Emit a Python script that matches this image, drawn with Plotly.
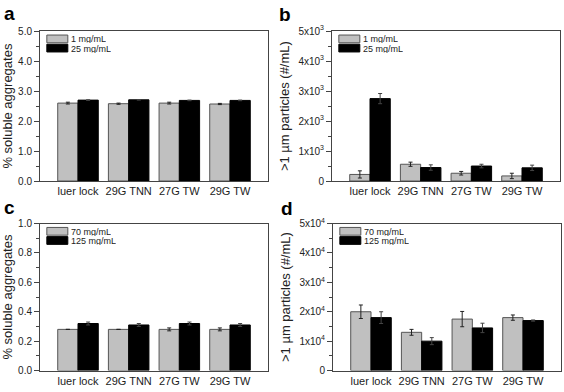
import plotly.graph_objects as go

categories = ["luer lock", "29G TNN", "27G TW", "29G TW"]

# Panel a: % soluble aggregates, 1 vs 25 mg/mL
a_low = [2.60, 2.58, 2.60, 2.57]
a_low_err = [0.03, 0.02, 0.03, 0.02]
a_high = [2.70, 2.71, 2.69, 2.69]
a_high_err = [0.01, 0.01, 0.01, 0.01]

# Panel b: >1 um particles, 1 vs 25 mg/mL
b_low = [220, 560, 260, 170]
b_low_err = [120, 70, 60, 90]
b_high = [2750, 450, 500, 440]
b_high_err = [170, 90, 60, 90]

# Panel c: % soluble aggregates, 70 vs 125 mg/mL
c_low = [0.28, 0.28, 0.28, 0.28]
c_low_err = [0.0, 0.0, 0.01, 0.01]
c_high = [0.32, 0.31, 0.32, 0.31]
c_high_err = [0.01, 0.01, 0.01, 0.01]

# Panel d: >1 um particles, 70 vs 125 mg/mL
d_low = [20000, 13000, 17500, 18000]
d_low_err = [2300, 1000, 2600, 900]
d_high = [18000, 10000, 14500, 17000]
d_high_err = [2000, 1200, 1600, 200]

legend_ab = ["1 mg/mL", "25 mg/mL"]
legend_cd = ["70 mg/mL", "125 mg/mL"]

ticks_a = [0, 1, 2, 3, 4, 5]
ticktext_a = ["0.0", "1.0", "2.0", "3.0", "4.0", "5.0"]
ticks_b = [0, 1000, 2000, 3000, 4000, 5000]
ticktext_b = ["0"] + [f"{i}x10<sup>3</sup>" for i in range(1, 6)]
ticks_c = [0, 0.2, 0.4, 0.6, 0.8, 1.0]
ticktext_c = ["0.0", "0.2", "0.4", "0.6", "0.8", "1.0"]
ticks_d = [0, 10000, 20000, 30000, 40000, 50000]
ticktext_d = ["0"] + [f"{i}x10<sup>4</sup>" for i in range(1, 6)]

GRAY = "#c0c0c0"
FONT = "Liberation Sans, Arial, sans-serif"
TXT = "#222222"
LINE = "#444444"

W, H = 564, 392
def px_x(a, b):
    return [a / W, b / W]
def px_y(top, bottom):
    return [1 - bottom / H, 1 - top / H]

panels = [
    dict(low=a_low, le=a_low_err, high=a_high, he=a_high_err, leg=legend_ab,
         ticks=ticks_a, tt=ticktext_a, rng=[0, 5], minor=0.5,
         title="% soluble aggregates", xd=px_x(40, 268), yd=px_y(25, 180),
         label="a", lx=2, ly=7, so=8),
    dict(low=b_low, le=b_low_err, high=b_high, he=b_high_err, leg=legend_ab,
         ticks=ticks_b, tt=ticktext_b, rng=[0, 5000], minor=500,
         title=">1 µm particles (#/mL)", xd=px_x(332, 560), yd=px_y(25, 180),
         label="b", lx=277, ly=8, so=5),
    dict(low=c_low, le=c_low_err, high=c_high, he=c_high_err, leg=legend_cd,
         ticks=ticks_c, tt=ticktext_c, rng=[0, 1.0], minor=0.1,
         title="% soluble aggregates", xd=px_x(40, 268), yd=px_y(224, 376),
         label="c", lx=2, ly=207, so=8),
    dict(low=d_low, le=d_low_err, high=d_high, he=d_high_err, leg=legend_cd,
         ticks=ticks_d, tt=ticktext_d, rng=[0, 50000], minor=5000,
         title=">1 µm particles (#/mL)", xd=px_x(333, 561), yd=px_y(224, 376),
         label="d", lx=279, ly=208, so=5),
]

fig = go.Figure()
shapes = []
annotations = []

for i, p in enumerate(panels, start=1):
    xa = "x" if i == 1 else f"x{i}"
    ya = "y" if i == 1 else f"y{i}"
    fig.add_trace(go.Bar(
        x=categories, y=p["low"], xaxis=xa, yaxis=ya, name=p["leg"][0],
        marker=dict(color=GRAY, line=dict(color="#555555", width=1)),
        error_y=dict(type="data", array=p["le"], color="#222222", thickness=1, width=2),
        showlegend=False, offsetgroup="1", hoverinfo="skip",
    ))
    fig.add_trace(go.Bar(
        x=categories, y=p["high"], xaxis=xa, yaxis=ya, name=p["leg"][1],
        marker=dict(color="#000000", line=dict(color="#000000", width=1)),
        error_y=dict(type="data", array=p["he"], color="#444444", thickness=1, width=2),
        showlegend=False, offsetgroup="2", hoverinfo="skip",
    ))
    xkey = "xaxis" if i == 1 else f"xaxis{i}"
    ykey = "yaxis" if i == 1 else f"yaxis{i}"
    fig.update_layout(**{
        xkey: dict(domain=p["xd"], anchor=ya, range=[-0.75, 3.75],
                   showline=True, mirror=True, linecolor=LINE, linewidth=1,
                   ticks="", showgrid=False, zeroline=False,
                   tickfont=dict(size=11, color=TXT, family=FONT)),
        ykey: dict(domain=p["yd"], anchor=xa, range=p["rng"],
                   showline=True, mirror=True, linecolor=LINE, linewidth=1,
                   ticks="outside", ticklen=5, tickcolor=LINE,
                   tickvals=p["ticks"], ticktext=p["tt"],
                   minor=dict(ticks="outside", ticklen=3, dtick=p["minor"],
                              tickcolor=LINE, showgrid=False),
                   showgrid=False, zeroline=False,
                   tickfont=dict(size=10, color=TXT, family=FONT),
                   title=dict(text=p["title"], standoff=p["so"],
                              font=dict(size=13, color=TXT, family=FONT))),
    })
    # legend swatches and labels inside the plot area
    xd_ref = f"{xa} domain"
    yd_ref = f"{ya} domain"
    h_px = (p["yd"][1] - p["yd"][0]) * H
    def fy(px):
        return 1 - px / h_px
    for j, (col, lc, lab) in enumerate([(GRAY, "#555555", p["leg"][0]),
                                        ("#000000", "#000000", p["leg"][1])]):
        t = 4 + j * 9.5
        shapes.append(dict(type="rect", xref=xd_ref, yref=yd_ref,
                           x0=0.03, x1=0.122, y0=fy(t + 8), y1=fy(t),
                           fillcolor=col, line=dict(color=lc, width=1)))
        annotations.append(dict(text=lab, xref=xd_ref, yref=yd_ref,
                                x=0.126, y=fy(t + 4), xanchor="left", yanchor="middle",
                                showarrow=False, height=9,
                                font=dict(size=9, color=TXT, family=FONT)))
    annotations.append(dict(text=f"<b>{p['label']}</b>", xref="paper", yref="paper",
                            x=p["lx"] / W, y=1 - p["ly"] / H, xanchor="left", yanchor="middle",
                            showarrow=False,
                            font=dict(size=19, color="#000000", family=FONT)))

fig.update_layout(
    width=W, height=H,
    margin=dict(l=0, r=0, t=0, b=0),
    paper_bgcolor="white", plot_bgcolor="white",
    barmode="group", bargap=0.2, bargroupgap=0,
    font=dict(family=FONT, color=TXT),
    shapes=shapes, annotations=annotations,
    hovermode=False,
)

fig.write_html("out.html", config={"displayModeBar": False, "staticPlot": True},
               post_script="document.body.style.margin='0';document.body.style.overflow='hidden';")
